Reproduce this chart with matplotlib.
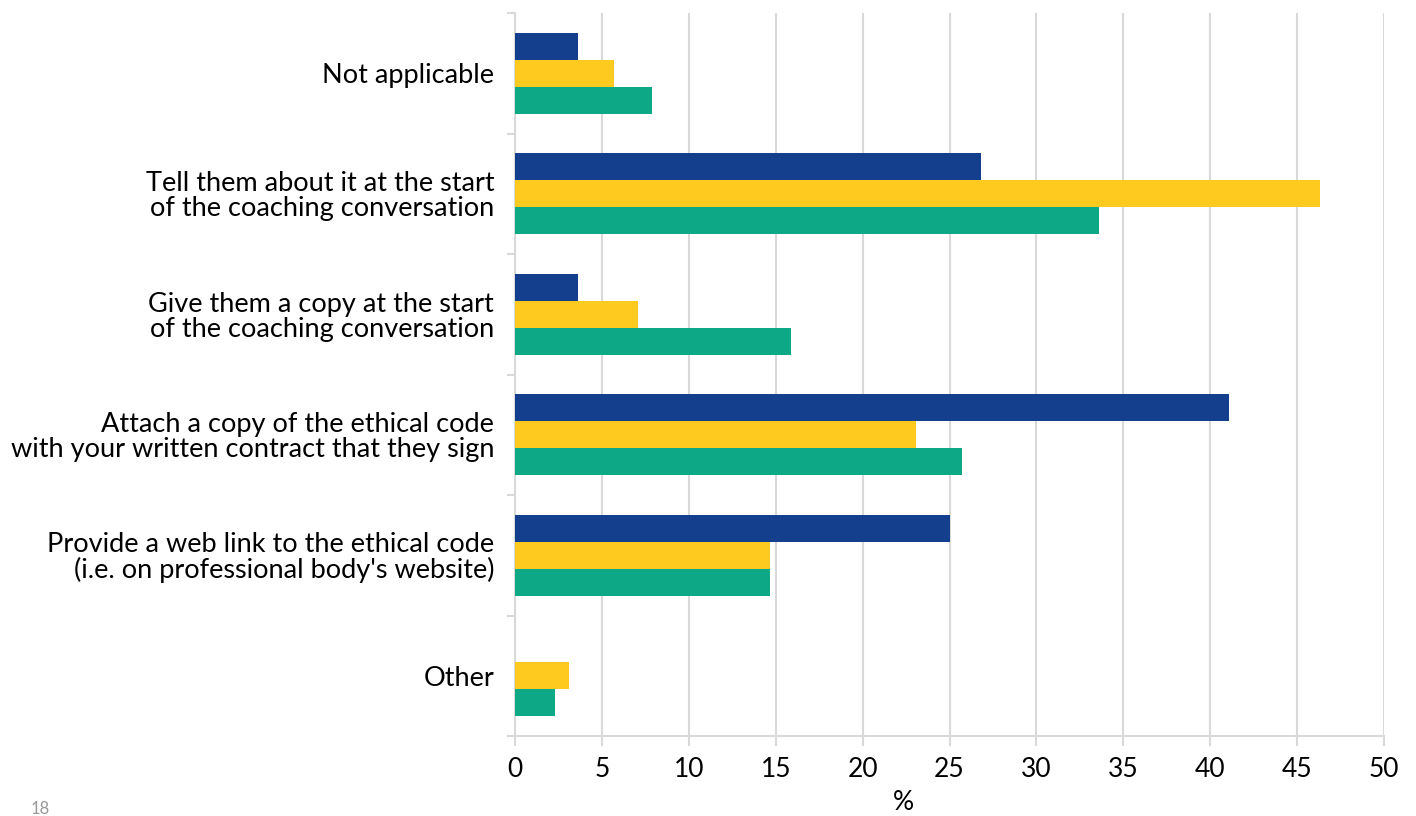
import numpy as np
import matplotlib
matplotlib.use('Agg')
import matplotlib.pyplot as plt

plt.rcParams['font.family'] = ['Lato', 'DejaVu Sans']

categories = ['Not applicable',
              'Tell them about it at the start\nof the coaching conversation',
              'Give them a copy at the start\nof the coaching conversation',
              'Attach a copy of the ethical code\nwith your written contract that they sign',
              'Provide a web link to the ethical code\n(i.e. on professional body\'s website)',
              'Other']

# three series, top to bottom within each group
blue_vals = [3.6, 26.8, 3.6, 41.1, 25.0, 0.0]
yellow_vals = [5.7, 46.3, 7.1, 23.1, 14.7, 3.1]
green_vals = [7.9, 33.6, 15.9, 25.7, 14.7, 2.3]

x_ticks = [0, 5, 10, 15, 20, 25, 30, 35, 40, 45, 50]

c_blue = '#143F8C'
c_yellow = '#FFCA1F'
c_green = '#0DA987'
grid_c = '#D9D9D9'

fig = plt.figure(figsize=(14.16, 8.16), dpi=100)
ax = fig.add_axes([515/1416, 1 - 736/816, (1384 - 515)/1416, (736 - 13)/816])

y = np.arange(len(categories))
h = 0.225
ax.barh(y - h, blue_vals, height=h, color=c_blue, zorder=3)
ax.barh(y, yellow_vals, height=h, color=c_yellow, zorder=3)
ax.barh(y + h, green_vals, height=h, color=c_green, zorder=3)

ax.set_ylim(len(categories) - 0.5, -0.5)
ax.set_xlim(0, 50)

ax.set_yticks(y)
ax.set_yticklabels(categories, fontsize=19.5, linespacing=1.0, ha='right')
ax.set_yticks(np.arange(-0.5, len(categories)), minor=True)
ax.tick_params(axis='y', which='major', length=0, pad=15)
ax.tick_params(axis='y', which='minor', length=6, color=grid_c, width=1.5)

ax.set_xticks(x_ticks)
ax.tick_params(axis='x', length=7, color=grid_c, width=1.5, labelsize=19, pad=8)
ax.set_xlabel('%', fontsize=19)
ax.xaxis.set_label_coords((903 - 515) / 869, -0.074)

ax.grid(axis='x', color=grid_c, linewidth=1.5, zorder=0)
ax.set_axisbelow(True)
for s in ['top', 'right']:
    ax.spines[s].set_visible(False)
for s in ['left', 'bottom']:
    ax.spines[s].set_color(grid_c)
    ax.spines[s].set_linewidth(1.5)

fig.text(40/1416, 0.008, '18', fontsize=12, color='#999999', va='center', ha='center')

fig.savefig('out.png', dpi=100)
